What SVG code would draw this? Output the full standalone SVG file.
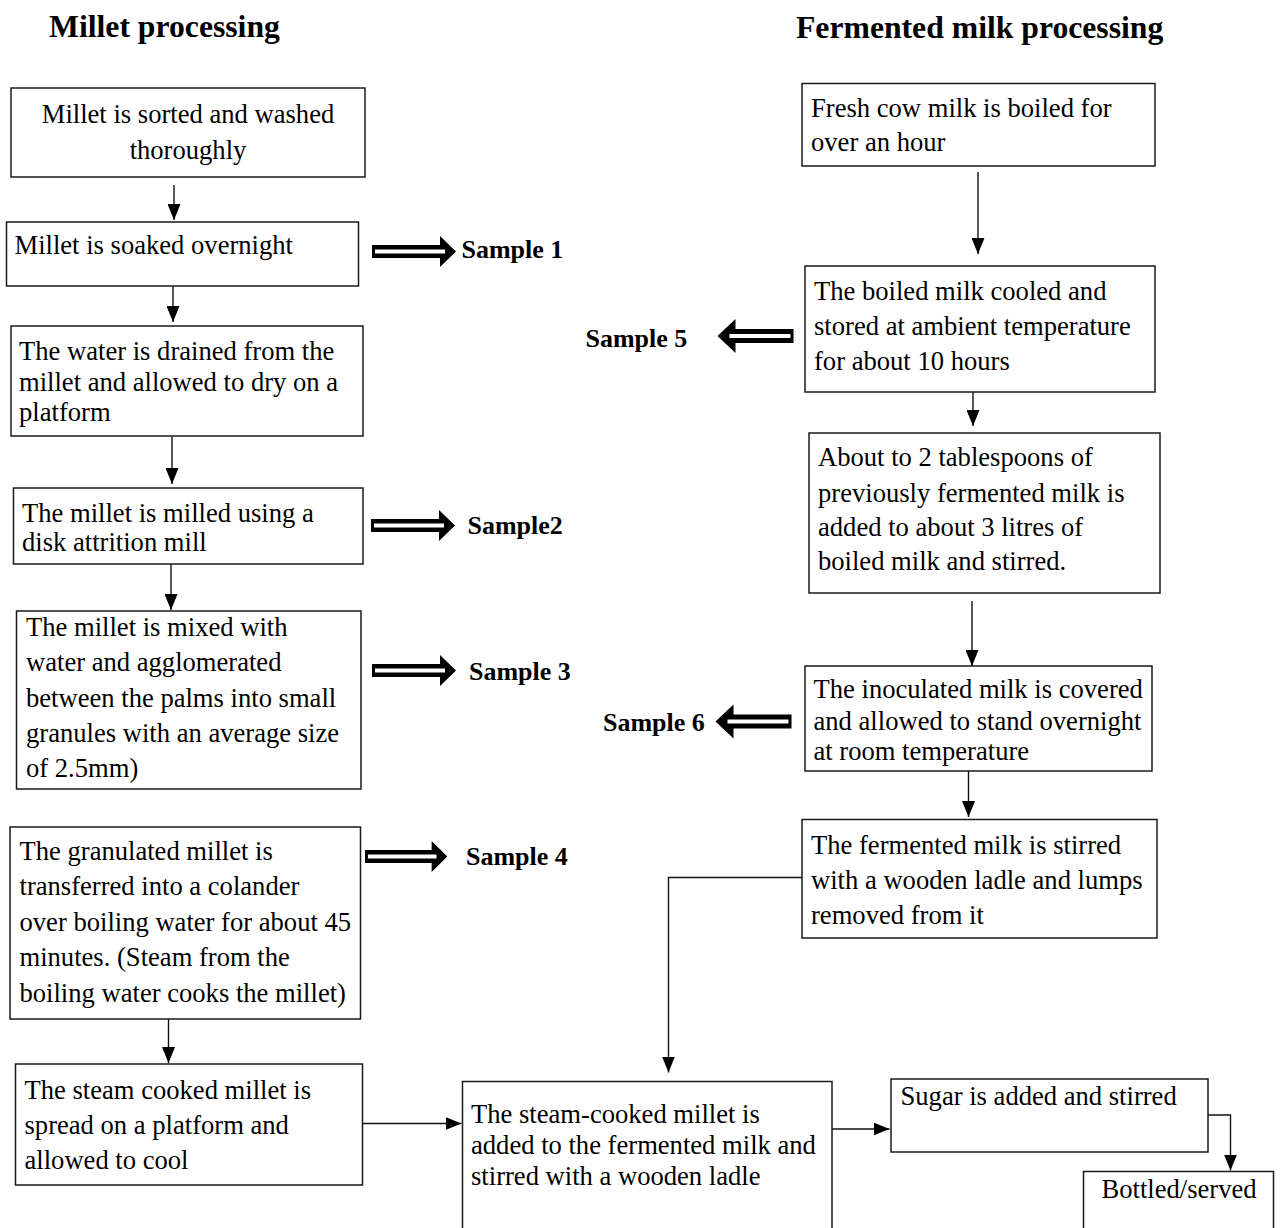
<svg xmlns="http://www.w3.org/2000/svg" width="1282" height="1228" viewBox="0 0 1282 1228">
<style>
.box{fill:#fff;stroke:#1a1a1a;stroke-width:1.5}
.t{font-family:"Liberation Serif","Times New Roman",serif;font-size:26.6px;fill:#000}
.s{font-family:"Liberation Serif","Times New Roman",serif;font-size:26px;font-weight:bold;fill:#000}
.h{font-family:"Liberation Serif","Times New Roman",serif;font-size:31.7px;font-weight:bold;fill:#000}
.c{fill:none;stroke:#111;stroke-width:1.4}
</style>
<defs>
<marker id="ah" markerUnits="userSpaceOnUse" markerWidth="16" markerHeight="13" refX="16" refY="6.5" orient="auto">
<path d="M0,0 L16,6.5 L0,13 Z" fill="#000"/>
</marker>
<g id="rarrow">
<path d="M0,-6.5 H68 V-15.5 L84,0 L68,15.5 V6.5 H0 Z" fill="#000"/>
<rect x="3" y="-2" width="70" height="4" fill="#fff"/>
</g>
<g id="larrow">
<path d="M0,0 L18,-17 V-7 H76 V7 H18 V17 Z" fill="#000"/>
<rect x="12" y="-2" width="61" height="4" fill="#fff"/>
</g>
</defs>
<rect width="1282" height="1228" fill="#fff"/>

<text class="h" x="49" y="36.5">Millet processing</text>
<text class="h" x="796" y="38">Fermented milk processing</text>

<g id="connectors">
<line class="c" x1="174" y1="185" x2="174" y2="220" marker-end="url(#ah)"/>
<line class="c" x1="173" y1="286" x2="173" y2="322" marker-end="url(#ah)"/>
<line class="c" x1="172" y1="437" x2="172" y2="484" marker-end="url(#ah)"/>
<line class="c" x1="171" y1="564" x2="171" y2="610" marker-end="url(#ah)"/>
<line class="c" x1="168.5" y1="1019" x2="168.5" y2="1063" marker-end="url(#ah)"/>
<line class="c" x1="362" y1="1123.5" x2="461.5" y2="1123.5" marker-end="url(#ah)"/>
<line class="c" x1="978" y1="172" x2="978" y2="254" marker-end="url(#ah)"/>
<line class="c" x1="973" y1="392" x2="973" y2="426" marker-end="url(#ah)"/>
<line class="c" x1="972" y1="601" x2="972" y2="666" marker-end="url(#ah)"/>
<line class="c" x1="968.5" y1="771" x2="968.5" y2="817" marker-end="url(#ah)"/>
<polyline class="c" points="802,877.5 668.5,877.5 668.5,1072.5" marker-end="url(#ah)"/>
<line class="c" x1="832" y1="1129" x2="889.5" y2="1129" marker-end="url(#ah)"/>
<polyline class="c" points="1208,1115 1230.5,1115 1230.5,1170.5" marker-end="url(#ah)"/>
<use href="#rarrow" transform="translate(372,251.5)"/>
<use href="#rarrow" transform="translate(371,525.5)"/>
<use href="#rarrow" transform="translate(372,670.5)"/>
<use href="#rarrow" transform="translate(365,856.5) scale(0.98,1)"/>
<use href="#larrow" transform="translate(717.5,336)"/>
<use href="#larrow" transform="translate(715.5,721.5)"/>
</g>

<g id="n1">
<rect class="box" x="11" y="88" width="354" height="89"/>
<text class="t" x="188" y="123" text-anchor="middle">Millet is sorted and washed</text>
<text class="t" x="188" y="158.5" text-anchor="middle">thoroughly</text>
</g>
<g id="n2">
<rect class="box" x="6.5" y="222" width="352" height="64"/>
<text class="t" x="14.5" y="254">Millet is soaked overnight</text>
</g>
<g id="n3">
<rect class="box" x="11" y="326" width="352" height="110"/>
<text class="t" x="19" y="359.5">The water is drained from the</text>
<text class="t" x="19" y="390.5">millet and allowed to dry on a</text>
<text class="t" x="19" y="420.5">platform</text>
</g>
<g id="n4">
<rect class="box" x="13.5" y="488" width="349.5" height="76"/>
<text class="t" x="22" y="521.5">The millet is milled using a</text>
<text class="t" x="22" y="550.5">disk attrition mill</text>
</g>
<g id="n5">
<rect class="box" x="16.5" y="611" width="344.5" height="178"/>
<text class="t" x="26" y="636">The millet is mixed with</text>
<text class="t" x="26" y="670.5">water and agglomerated</text>
<text class="t" x="26" y="706.5">between the palms into small</text>
<text class="t" x="26" y="741.5">granules with an average size</text>
<text class="t" x="26" y="776.5">of 2.5mm)</text>
</g>
<g id="n6">
<rect class="box" x="10" y="827" width="350.5" height="192"/>
<text class="t" x="19.5" y="860">The granulated millet is</text>
<text class="t" x="19.5" y="895">transferred into a colander</text>
<text class="t" x="19.5" y="930.5">over boiling water for about 45</text>
<text class="t" x="19.5" y="965.5">minutes. (Steam from the</text>
<text class="t" x="19.5" y="1001.5">boiling water cooks the millet)</text>
</g>
<g id="n7">
<rect class="box" x="15.5" y="1064" width="347" height="121"/>
<text class="t" x="24.5" y="1098.5">The steam cooked millet is</text>
<text class="t" x="24.5" y="1133.5">spread on a platform and</text>
<text class="t" x="24.5" y="1168.5">allowed to cool</text>
</g>
<g id="n8">
<rect class="box" x="462.5" y="1081.5" width="369.5" height="170"/>
<text class="t" x="471" y="1123">The steam-cooked millet is</text>
<text class="t" x="471" y="1153.5">added to the fermented milk and</text>
<text class="t" x="471" y="1184.5">stirred with a wooden ladle</text>
</g>
<g id="n9">
<rect class="box" x="891" y="1079" width="317" height="73"/>
<text class="t" x="900.5" y="1105">Sugar is added and stirred</text>
</g>
<g id="n10">
<rect class="box" x="1083.5" y="1171.5" width="190" height="80"/>
<text class="t" x="1101.5" y="1197.5">Bottled/served</text>
</g>

<g id="f1">
<rect class="box" x="802" y="83.5" width="353" height="82.5"/>
<text class="t" x="811" y="116.5">Fresh cow milk is boiled for</text>
<text class="t" x="811" y="151">over an hour</text>
</g>
<g id="f2">
<rect class="box" x="805" y="266" width="350" height="126"/>
<text class="t" x="814" y="299.5">The boiled milk cooled and</text>
<text class="t" x="814" y="335">stored at ambient temperature</text>
<text class="t" x="814" y="370">for about 10 hours</text>
</g>
<g id="f3">
<rect class="box" x="809" y="433" width="351" height="160"/>
<text class="t" x="818" y="466">About to 2 tablespoons of</text>
<text class="t" x="818" y="501.5">previously fermented milk is</text>
<text class="t" x="818" y="535.5">added to about 3 litres of</text>
<text class="t" x="818" y="570">boiled milk and stirred.</text>
</g>
<g id="f4">
<rect class="box" x="805" y="666" width="347" height="105"/>
<text class="t" x="813.5" y="697.5">The inoculated milk is covered</text>
<text class="t" x="813.5" y="730">and allowed to stand overnight</text>
<text class="t" x="813.5" y="760">at room temperature</text>
</g>
<g id="f5">
<rect class="box" x="802" y="819.5" width="355" height="118.5"/>
<text class="t" x="811" y="853.5">The fermented milk is stirred</text>
<text class="t" x="811" y="888.5">with a wooden ladle and lumps</text>
<text class="t" x="811" y="923.5">removed from it</text>
</g>

<g id="samples">
<text class="s" x="461.5" y="258">Sample 1</text>
<text class="s" x="467.5" y="534">Sample2</text>
<text class="s" x="469" y="679.5">Sample 3</text>
<text class="s" x="466" y="865">Sample 4</text>
<text class="s" x="585.5" y="347">Sample 5</text>
<text class="s" x="603" y="731">Sample 6</text>
</g>
</svg>
